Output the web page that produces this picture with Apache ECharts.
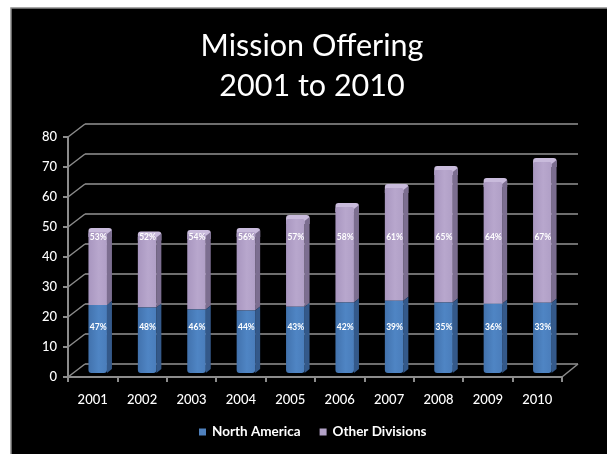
<!DOCTYPE html>
<html>
<head>
<meta charset="utf-8">
<style>html,body{margin:0;padding:0;background:#fff}#c{width:607px;height:454px}</style>
<script src="https://cdn.jsdelivr.net/npm/echarts@6/dist/echarts.min.js"></script>
</head>
<body>
<div id="c"></div>
<script>
const years = ['2001','2002','2003','2004','2005','2006','2007','2008','2009','2010'];
const northAmerica = [22.7,21.8,21.2,20.8,22.1,23.5,24.1,23.5,23.1,23.4];
const otherDivisions = [24.3,24.0,25.1,26.2,29.2,31.8,37.6,44.2,40.6,46.9];
const northPct = ['47%','48%','46%','44%','43%','42%','39%','35%','36%','33%'];
const otherPct = ['53%','52%','54%','56%','57%','58%','61%','65%','64%','67%'];
const yTicks = [0,10,20,30,40,50,60,70,80];
const FONT = 'Lato, "Open Sans", sans-serif';
const depth = {wallX:17, wallY:-13, barX:5, barY:-4, sideX:5, sideY:-4};
const lineCol = '#8c8c8c';

function hGrad(a,b,c){return {type:'linear',x:0,y:0,x2:1,y2:0,colorStops:[{offset:0,color:a},{offset:.55,color:b},{offset:1,color:c}]};}
const palette = {
  blue:{front:hGrad('#4272ad','#4f85c4','#4a7dbb'),side:'#34598a',top:'#5c8fcb'},
  purple:{front:hGrad('#a896bf','#b8a7cd','#b09fc6'),side:'#7c6e90',top:'#c9bbdc'}
};
function seg(api,i,lo,hi,pal,pct,labelLevel,capTop){
  const x0=api.coord([i,0]);
  const w=18.5, cx=x0[0]+depth.barX, left=cx-w/2, right=cx+w/2;
  const yb=api.coord([i,lo])[1]+depth.barY, yt=api.coord([i,hi])[1]+depth.barY;
  const sx=depth.sideX, sy=depth.sideY;
  const kids=[];
  if(capTop){
    kids.push({type:'rect',shape:{x:left,y:yt+sy,width:w+sx,height:9,r:[3,3,0,0]},style:{fill:pal.top}});
  }
  kids.push({type:'polygon',shape:{points:[[right,yt+(capTop?2:0)],[right+sx,yt+sy+(capTop?2:0)],[right+sx,yb+sy],[right,yb]]},style:{fill:pal.side}});
  kids.push({type:'rect',shape:{x:left,y:yt,width:w,height:yb-yt,r:lo===0?[0,0,3,3]:[2,2,0,0]},style:{fill:pal.front}});
  kids.push({type:'text',style:{text:pct,x:cx+.5,y:api.coord([i,labelLevel])[1],align:'center',verticalAlign:'middle',fill:'#fff',font:'bold 8.5px '+FONT}});
  return {type:'group',children:kids};
}
const opt = {
  animation:false,
  backgroundColor:'#fff',
  graphic:[{type:'rect',z:-10,shape:{x:11,y:8,width:620,height:470},style:{fill:'#000',stroke:'#8a8a8a',lineWidth:1.5}}],
  title:{text:'Mission Offering\n2001 to 2010',left:307,top:21,textAlign:'center',
    textStyle:{color:'#fff',fontFamily:FONT,fontSize:30.5,fontWeight:'normal',lineHeight:40}},
  grid:[
    {left:68,top:137,width:494,height:240},
    {left:68+depth.wallX,top:137+depth.wallY,width:494-1,height:240}
  ],
  xAxis:[
    {type:'category',data:years,gridIndex:0,boundaryGap:true,
     axisLine:{lineStyle:{color:lineCol,width:2}},axisTick:{show:true,length:5,lineStyle:{color:lineCol,width:2}},
     axisLabel:{color:'#fff',fontFamily:FONT,fontSize:13,fontWeight:500,margin:16,interval:0},splitLine:{show:false}},
    {type:'category',data:years,gridIndex:1,show:false}
  ],
  yAxis:[
    {type:'value',min:0,max:80,interval:10,gridIndex:0,
     axisLine:{show:true,lineStyle:{color:lineCol,width:2}},axisTick:{show:true,length:5,lineStyle:{color:lineCol,width:2}},
     axisLabel:{color:'#fff',fontFamily:FONT,fontSize:13,fontWeight:500,margin:11},splitLine:{show:false}},
    {type:'value',min:0,max:80,interval:10,gridIndex:1,
     axisLine:{show:false},axisTick:{show:false},axisLabel:{show:false},
     splitLine:{show:true,lineStyle:{color:'#6e6e6e',width:2}}}
  ],
  series:[
    {type:'custom',name:'connectors',xAxisIndex:0,yAxisIndex:0,z:1,silent:true,
     data:yTicks.map(t=>[t]),encode:{y:0},clip:false,
     renderItem(p,api){
       const a=api.coord([0,api.value(0)]);
       const x=p.coordSys.x, y=a[1];
       return {type:'line',shape:{x1:x,y1:y,x2:x+depth.wallX,y2:y+depth.wallY},style:{stroke:lineCol,lineWidth:1.5}};
     }},
    {type:'custom',name:'floorEdge',xAxisIndex:0,yAxisIndex:0,z:1,silent:true,clip:false,
     data:[[0]],encode:{y:0},
     renderItem(p,api){
       const y=api.coord([0,api.value(0)])[1], x=p.coordSys.x+p.coordSys.width;
       return {type:'line',shape:{x1:x,y1:y,x2:x+depth.wallX-1,y2:y+depth.wallY},style:{stroke:lineCol,lineWidth:1.5}};
     }},
    {type:'custom',name:'North America',xAxisIndex:0,yAxisIndex:0,z:3,clip:false,
     data:northAmerica.map((v,i)=>[i,v]),encode:{x:0,y:1},itemStyle:{color:'#4f81bd'},
     renderItem(p,api){const i=api.value(0);return seg(api,i,0,api.value(1),palette.blue,northPct[i],16.7,false);}},
    {type:'custom',name:'Other Divisions',xAxisIndex:0,yAxisIndex:0,z:2,clip:false,
     data:otherDivisions.map((v,i)=>[i,v,northAmerica[i]]),encode:{x:0,y:1},itemStyle:{color:'#b3a2c7'},
     renderItem(p,api){const i=api.value(0),b=api.value(2);return seg(api,i,b,b+api.value(1),palette.purple,otherPct[i],46.7,true);}}
  ],
  legend:{show:true,data:['North America','Other Divisions'],left:194,top:420,itemWidth:7,itemHeight:7,itemGap:19,icon:'rect',
    textStyle:{color:'#fff',fontFamily:FONT,fontSize:13.5,fontWeight:'bold',padding:[0,0,0,1]}}
};
const chart = echarts.init(document.getElementById('c'),null,{renderer:'canvas'});
chart.setOption(opt);
</script>
</body>
</html>
